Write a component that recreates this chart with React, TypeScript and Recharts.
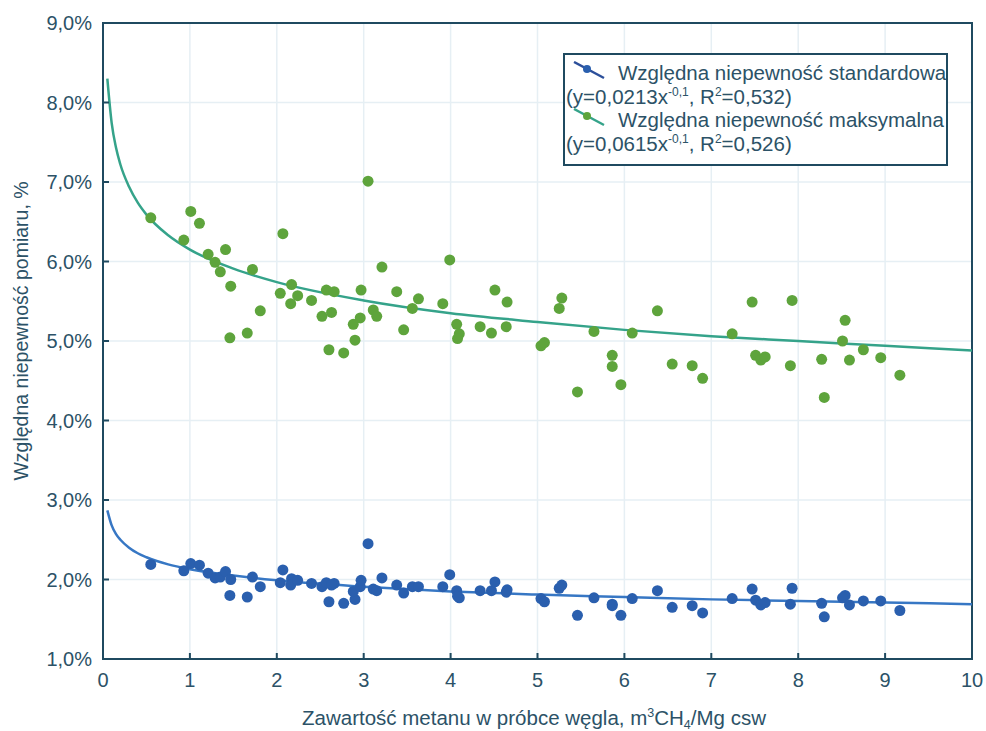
import React from 'react';
import {
  ComposedChart,
  Scatter,
  Line,
  XAxis,
  YAxis,
  CartesianGrid,
  ReferenceArea,
  Legend,
} from 'recharts';

// Methane content in coal sample, m3 CH4/Mg csw
const methaneContent = [
  0.55, 0.93, 1.01, 1.11, 1.21, 1.29, 1.35, 1.41, 1.47, 1.46, 1.66, 1.72, 1.81,
  2.04, 2.07, 2.17, 2.16, 2.24, 2.4, 2.52, 2.57, 2.66, 2.63, 2.6, 2.77, 2.9, 2.88,
  2.96, 2.97, 3.05, 3.21, 3.11, 3.15, 3.38, 3.46, 3.56, 3.63, 3.91, 3.99, 4.07,
  4.1, 4.08, 4.34, 4.47, 4.51, 4.65, 4.64, 5.04, 5.08, 5.25, 5.28, 5.46, 5.65,
  5.86, 5.86, 5.96, 6.09, 6.38, 6.55, 6.78, 6.9, 7.24, 7.47, 7.51, 7.57, 7.62,
  7.93, 7.91, 8.27, 8.3, 8.54, 8.51, 8.59, 8.75, 8.95, 9.17,
];
// Relative maximum uncertainty, %
const maxUncertainty = [
  6.55, 6.27, 6.63, 6.48, 6.09, 5.99, 5.87, 6.15, 5.69, 5.04, 5.1, 5.9, 5.38,
  5.6, 6.35, 5.71, 5.47, 5.57, 5.51, 5.31, 5.64, 5.62, 5.36, 4.89, 4.85, 5.01, 5.21,
  5.29, 5.64, 7.01, 5.93, 5.39, 5.31, 5.62, 5.14, 5.41, 5.53, 5.47, 6.02, 5.21,
  5.09, 5.03, 5.18, 5.1, 5.64, 5.49, 5.18, 4.94, 4.98, 5.41, 5.54, 4.36, 5.12,
  4.82, 4.68, 4.45, 5.1, 5.38, 4.71, 4.69, 4.53, 5.09, 5.49, 4.82, 4.76, 4.8,
  5.51, 4.69, 4.77, 4.29, 5.26, 5.0, 4.76, 4.89, 4.79, 4.57,
];
// Relative standard uncertainty, %
const stdUncertainty = [
  2.19, 2.11, 2.2, 2.18, 2.08, 2.02, 2.03, 2.1, 2.0, 1.8, 1.78, 2.03, 1.91,
  1.96, 2.12, 2.01, 1.93, 1.99, 1.95, 1.91, 1.96, 1.95, 1.93, 1.72, 1.7, 1.75, 1.85,
  1.91, 1.99, 2.45, 2.02, 1.88, 1.86, 1.93, 1.83, 1.91, 1.91, 1.91, 2.06, 1.86,
  1.77, 1.79, 1.86, 1.86, 1.97, 1.87, 1.84, 1.76, 1.72, 1.89, 1.93, 1.55, 1.77,
  1.69, 1.67, 1.55, 1.76, 1.86, 1.65, 1.67, 1.58, 1.76, 1.88, 1.74, 1.68, 1.71,
  1.89, 1.69, 1.7, 1.53, 1.8, 1.77, 1.68, 1.73, 1.73, 1.61,
];

// Fitted trend curves
const trendX = [0.05, 0.1, 0.15, 0.2, 0.3, 0.4, 0.5, 0.75, 1, 1.5, 2, 3, 4, 5, 6, 7, 8, 9, 10];
const trendMax = [8.3, 7.74, 7.43, 7.22, 6.94, 6.74, 6.59, 6.33, 6.15, 5.91, 5.74, 5.51, 5.35, 5.24, 5.14, 5.06, 5.0, 4.94, 4.88];
const trendStd = [2.87, 2.68, 2.57, 2.5, 2.4, 2.33, 2.28, 2.19, 2.13, 2.05, 1.99, 1.91, 1.85, 1.81, 1.78, 1.75, 1.73, 1.71, 1.69];

const xTicks = [0, 1, 2, 3, 4, 5, 6, 7, 8, 9, 10];
const yTicks = [1, 2, 3, 4, 5, 6, 7, 8, 9];

const legendLabels = [
  'Względna niepewność standardowa',
  'Względna niepewność maksymalna',
];
const legendEquations = [
  { coef: '0,0213', exp: '-0,1', r2: '0,532' },
  { coef: '0,0615', exp: '-0,1', r2: '0,526' },
];

const maxPoints = methaneContent.map((x, i) => ({ x, y: maxUncertainty[i] }));
const stdPoints = methaneContent.map((x, i) => ({ x, y: stdUncertainty[i] }));
const maxTrend = trendX.map((x, i) => ({ x, y: trendMax[i] }));
const stdTrend = trendX.map((x, i) => ({ x, y: trendStd[i] }));

const FONT = '"Liberation Sans", Arial, sans-serif';
const TEXT = '#2c5267';
const AXIS = '#1f4a60';
const GREEN = '#5ea43c';
const GREEN_LINE = '#35a38a';
const BLUE = '#2a5fae';
const BLUE_LINE = '#3777c4';

const fmtPct = (v: number) => `${v.toFixed(1).replace('.', ',')}%`;

const GreenDot = (p: any) => <circle cx={p.cx} cy={p.cy} r={5.5} fill={GREEN} />;
const BlueDot = (p: any) => <circle cx={p.cx} cy={p.cy} r={5.5} fill={BLUE} />;

const supStyle: React.CSSProperties = {
  fontSize: 12,
  position: 'relative',
  top: -8,
  lineHeight: 0,
  verticalAlign: 'baseline',
};

const LegendBox = () => (
  <div
    style={{
      boxSizing: 'border-box',
      width: 385,
      height: 113,
      border: `2px solid ${AXIS}`,
      background: '#fff',
      fontFamily: FONT,
      fontSize: 20.5,
      color: TEXT,
      lineHeight: '23.5px',
      padding: '6px 0 0 1px',
      whiteSpace: 'nowrap',
      overflow: 'hidden',
    }}
  >
    {legendLabels.map((lab, i) => (
      <React.Fragment key={lab}>
        <div style={{ display: 'flex', alignItems: 'center', height: 23.5 }}>
          <svg width={52} height={23} style={{ flex: 'none' }}>
            <line x1={8} y1={1} x2={38} y2={17} stroke={i === 0 ? '#2c4f9a' : GREEN_LINE} strokeWidth={2.5} />
            <circle cx={21} cy={8} r={4} fill={i === 0 ? BLUE : GREEN} />
          </svg>
          <span>{lab}</span>
        </div>
        <div style={{ height: 23.5 }}>
          (y={legendEquations[i].coef}x<span style={supStyle}>{legendEquations[i].exp}</span>, R
          <span style={supStyle}>2</span>={legendEquations[i].r2})
        </div>
      </React.Fragment>
    ))}
  </div>
);

const YTitle = () => (
  <text
    transform="translate(21,331) rotate(-90)"
    textAnchor="middle"
    dominantBaseline="central"
    fontFamily={FONT}
    fontSize={19.5}
    fill={TEXT}
  >
    Względna niepewność pomiaru, %
  </text>
);

const XTitle = () => (
  <text x={534} y={725} textAnchor="middle" fontFamily={FONT} fontSize={20.5} fill={TEXT}>
    Zawartość metanu w próbce węgla, m
    <tspan fontSize={12.5} dy={-8}>3</tspan>
    <tspan dy={8}>CH</tspan>
    <tspan fontSize={12.5} dy={4}>4</tspan>
    <tspan dy={-4}>/Mg csw</tspan>
  </text>
);

export default function App() {
  return (
    <div style={{ position: 'fixed', left: 0, top: 0, width: 986, height: 731, background: '#fff' }}>
      <ComposedChart
        width={986}
        height={731}
        margin={{ top: 23, right: 14, left: 0, bottom: 0 }}
        style={{ fontFamily: FONT }}
      >
        <CartesianGrid stroke="#e6eff4" strokeWidth={1.5} />
        <XAxis
          type="number"
          dataKey="x"
          domain={[0, 10]}
          ticks={xTicks}
          allowDataOverflow
          height={72}
          stroke={AXIS}
          strokeWidth={2}
          tickSize={-6}
          tickMargin={20}
          tick={{ fill: TEXT, fontSize: 20, fontFamily: FONT }}
          label={() => <XTitle />}
        />
        <YAxis
          type="number"
          dataKey="y"
          domain={[1, 9]}
          ticks={yTicks}
          allowDataOverflow
          width={103}
          stroke={AXIS}
          strokeWidth={2}
          tickSize={-6}
          tickMargin={17}
          tickFormatter={fmtPct}
          tick={{ fill: TEXT, fontSize: 20, fontFamily: FONT }}
          label={() => <YTitle />}
        />
        <ReferenceArea x1={0} x2={10} y1={1} y2={9} fill="none" fillOpacity={0} stroke={AXIS} strokeWidth={2} />
        <Scatter data={maxPoints} dataKey="y" shape={GreenDot} isAnimationActive={false} legendType="none" />
        <Scatter data={stdPoints} dataKey="y" shape={BlueDot} isAnimationActive={false} legendType="none" />
        <Line
          data={maxTrend}
          dataKey="y"
          type="monotone"
          stroke={GREEN_LINE}
          strokeWidth={2.5}
          dot={false}
          activeDot={false}
          isAnimationActive={false}
        />
        <Line
          data={stdTrend}
          dataKey="y"
          type="monotone"
          stroke={BLUE_LINE}
          strokeWidth={2.5}
          dot={false}
          activeDot={false}
          isAnimationActive={false}
        />
        <Legend
          layout="vertical"
          align="center"
          verticalAlign="middle"
          content={() => <LegendBox />}
          wrapperStyle={{ left: 563, top: 53, width: 385, height: 113 }}
        />
      </ComposedChart>
    </div>
  );
}
